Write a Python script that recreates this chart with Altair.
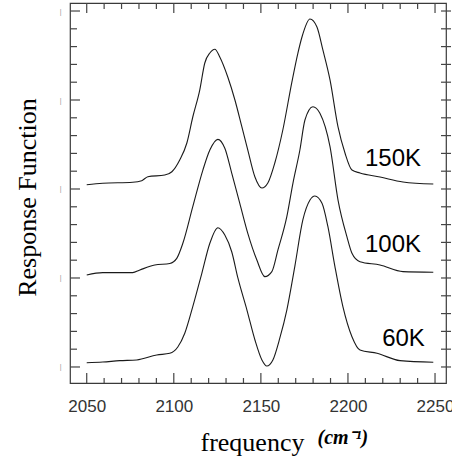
import altair as alt
import pandas as pd

# ---- data ----
freq_150 = [2050, 2059.2, 2076.4, 2081.6, 2085.1, 2094.8, 2098.9, 2103.4, 2107.5, 2110.9,
            2114.9, 2117.8, 2120.7, 2123.6, 2126.4, 2131.0, 2135.1, 2139.1, 2142.5, 2146.6,
            2150.6, 2154.0, 2158.0, 2162.6, 2167.8, 2171.3, 2173.6, 2178.2, 2182.2, 2185.6,
            2189.7, 2194.3, 2198.3, 2202.3, 2206.9, 2218.4, 2231.6, 2249]
resp_150 = [2.048, 2.064, 2.075, 2.093, 2.138, 2.157, 2.194, 2.326, 2.517, 2.809,
            3.112, 3.416, 3.528, 3.570, 3.483, 3.258, 3.0, 2.697, 2.438, 2.135,
            2.011, 2.067, 2.292, 2.663, 3.202, 3.53, 3.708, 3.910, 3.820, 3.562,
            3.225, 2.697, 2.404, 2.213, 2.180, 2.135, 2.079, 2.056]

freq_100 = [2050, 2059.2, 2076.4, 2080.5, 2089.1, 2097.7, 2101.7, 2105.2, 2110.9, 2116.7,
            2120.7, 2125.3, 2129.3, 2133.3, 2137.9, 2142.5, 2147.7, 2152.3, 2156.3, 2159.8,
            2164.9, 2168.4, 2172.4, 2175.3, 2179.9, 2183.9, 2189.7, 2194.3, 2199.4, 2202.3,
            2206.9, 2218.4, 2231.6, 2249]
resp_100 = [1.034, 1.060, 1.060, 1.090, 1.146, 1.163, 1.221, 1.390, 1.801, 2.213,
            2.438, 2.558, 2.457, 2.176, 1.839, 1.502, 1.202, 1.015, 1.071, 1.315,
            1.689, 2.064, 2.438, 2.775, 2.925, 2.851, 2.475, 1.876, 1.464, 1.278,
            1.183, 1.146, 1.071, 1.064]

freq_60 = [2050, 2059.2, 2069.0, 2078.7, 2090.2, 2097.7, 2102.3, 2106.3, 2110.9, 2116.1,
           2120.7, 2125.3, 2129.3, 2133.3, 2136.8, 2142.0, 2146.6, 2150.6, 2153.4, 2156.9,
           2160.9, 2164.9, 2169.5, 2174.1, 2178.2, 2181.0, 2185.1, 2188.5, 2192.5, 2197.1,
           2202.3, 2206.9, 2216.7, 2229.9, 2249]
resp_60 = [0.048, 0.056, 0.071, 0.079, 0.135, 0.154, 0.225, 0.379, 0.678, 1.053,
           1.390, 1.565, 1.483, 1.292, 1.0, 0.640, 0.303, 0.079, 0.011, 0.079,
           0.326, 0.640, 1.131, 1.652, 1.876, 1.921, 1.839, 1.576, 1.131, 0.678,
           0.340, 0.191, 0.154, 0.071, 0.053]

label_text = ["150K", "100K", "60K"]
label_freq = [2225.9, 2225.9, 2231.9]
label_resp = [2.34, 1.37, 0.315]

x_major = [2050, 2100, 2150, 2200, 2250]
x_minor = [v for v in range(2060, 2250, 10) if v % 50 != 0]
y_major = [0, 1, 2, 3, 4]
y_minor = [round(i * 0.2, 1) for i in range(1, 20) if i % 5 != 0]
y_all = [round(i * 0.2, 1) for i in range(0, 21)]

XMIN, XMAX = 2040.4, 2256.3
YMIN, YMAX = -0.18, 4.09

rows = []
for name, fs, rs in [("150K", freq_150, resp_150), ("100K", freq_100, resp_100), ("60K", freq_60, resp_60)]:
    for f, r in zip(fs, rs):
        rows.append({"series": name, "freq": f, "resp": r})
df = pd.DataFrame(rows)
labels_df = pd.DataFrame({"text": label_text, "freq": label_freq, "resp": label_resp})

W, H = 376, 380
xscale = alt.Scale(domain=[XMIN, XMAX], nice=False, zero=False)
yscale = alt.Scale(domain=[YMIN, YMAX], nice=False, zero=False)
TICK = "#444444"

lines = alt.Chart(df).mark_line(color="#1a1a1a", strokeWidth=1.1, interpolate="monotone").encode(
    x=alt.X("freq:Q", scale=xscale,
            axis=alt.Axis(orient="bottom", values=x_major, format="d", ticks=False, domain=False,
                          grid=False, labelFont="Liberation Sans", labelFontSize=17,
                          labelColor="#333", labelPadding=15, labelFlush=False, labelOverlap=False,
                          title="frequency", titleFont="Liberation Serif", titleFontSize=26,
                          titleFontWeight="normal", titleColor="#000", titleX=130, titleY=67,
                          titleAlign="left", titleBaseline="alphabetic")),
    y=alt.Y("resp:Q", scale=yscale,
            axis=alt.Axis(orient="left", values=y_major, ticks=False, domain=False, grid=False,
                          labelExpr="'|'", labelFontSize=7, labelColor="#999", labelPadding=9,
                          title="Response Function", titleFont="Liberation Serif", titleFontSize=26,
                          titleFontWeight="normal", titleColor="#000", titleAngle=270,
                          titleX=-35, titleY=194, titleAlign="center", titleBaseline="alphabetic")),
    detail="series:N",
)

unit_title = alt.Chart(df).mark_line(strokeOpacity=0).encode(
    x=alt.X("freq:Q", scale=xscale,
            axis=alt.Axis(orient="bottom", ticks=False, labels=False, domain=False, grid=False,
                          title="(cm⁻¹)", titleFont="Liberation Serif", titleFontSize=20,
                          titleFontStyle="italic", titleFontWeight="bold", titleColor="#000",
                          titleX=247, titleY=60, titleAlign="left", titleBaseline="alphabetic")),
    y=alt.Y("resp:Q", scale=yscale, axis=None),
    detail="series:N",
)

def xticks(values, edge, length):
    d = pd.DataFrame({"v": values})
    return alt.Chart(d).mark_rule(color=TICK, strokeWidth=1.2, y2Offset=length).encode(
        x=alt.X("v:Q", scale=xscale, axis=None),
        y=alt.Y(datum=edge, scale=yscale, axis=None),
        y2=alt.Y2(datum=edge),
    )

def yticks(values, edge, length, start=0):
    d = pd.DataFrame({"v": values})
    return alt.Chart(d).mark_rule(color=TICK, strokeWidth=1.2, xOffset=start, x2Offset=length).encode(
        y=alt.Y("v:Q", scale=yscale, axis=None),
        x=alt.X(datum=edge, scale=xscale, axis=None),
        x2=alt.X2(datum=edge),
    )

tick_layers = [
    xticks(x_major, YMIN, -10),
    xticks(x_minor, YMIN, -5),
    xticks(x_major, YMAX, 10),
    xticks(x_minor, YMAX, 6),
    yticks(y_major, XMIN, 10),
    yticks(y_minor, XMIN, 7),
    yticks(y_all, XMAX, 5, start=-5),
]

texts = alt.Chart(labels_df).mark_text(font="Liberation Sans", fontSize=24, color="#000",
                                       align="center", baseline="middle").encode(
    x=alt.X("freq:Q", scale=xscale, axis=None),
    y=alt.Y("resp:Q", scale=yscale, axis=None),
    text="text:N",
)

chart = alt.layer(lines, unit_title, *tick_layers, texts).resolve_axis(
    x="independent", y="independent"
).properties(
    width=W, height=H,
    autosize=alt.AutoSizeParams(type="none"),
    padding={"left": 70, "top": 3, "right": 6, "bottom": 81},
    background="white",
).configure_view(stroke="#3a3a3a", strokeWidth=1.2)

chart.save("out.html", embed_options={"renderer": "svg", "actions": False})
